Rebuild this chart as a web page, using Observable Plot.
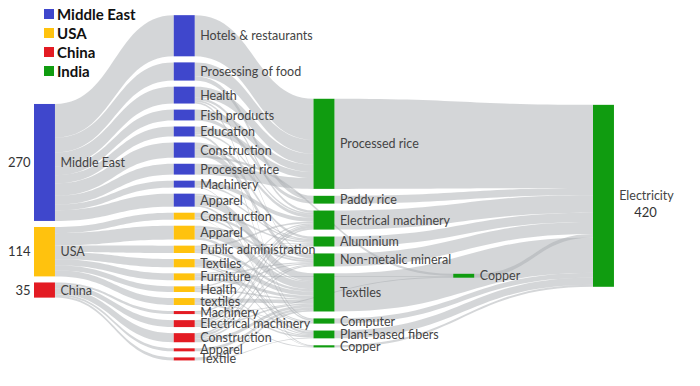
<!DOCTYPE html>
<html><head><meta charset="utf-8">
<script src="https://cdn.jsdelivr.net/npm/d3@7"></script>
<script src="https://cdn.jsdelivr.net/npm/@observablehq/plot@0.6"></script>
<style>
body{margin:0;background:#fff;}
#wrap{position:relative;width:700px;height:386px;overflow:hidden;}
#legend{position:absolute;left:44px;top:5px;}
#legend svg{margin-right:3px !important;}
</style></head><body>
<div id="wrap"><div id="chart"></div><div id="legend"></div></div>
<script>
// ---- data ----
const regions = ["Middle East", "USA", "China", "India"];
const regionColors = ["#3f47cc", "#ffc20e", "#e31b23", "#109c10"];

// column 0: importing regions (labelled totals)
const sourceNames = ["Middle East", "USA", "China"];
const sourceValues = [270, 114, 35];

// column 1: importing sectors (region index)
const sectorNames = ["Hotels & restaurants", "Prosessing of food", "Health", "Fish products", "Education", "Construction", "Processed rice", "Machinery", "Apparel",
  "Construction", "Apparel", "Public administration", "Textiles", "Furniture", "Health", "textiles",
  "Machinery", "Electrical machinery", "Construction", "Apparel", "Textile"];
const sectorRegions = [0,0,0,0,0,0,0,0,0, 1,1,1,1,1,1,1, 2,2,2,2,2];
const sectorValues = [95, 42, 39, 25, 23, 35, 25, 16, 30, 16, 32, 17, 19, 16, 13, 16, 7, 16, 21, 7, 7];

// column 2: Indian sectors
const indiaNames = ["Processed rice", "Paddy rice", "Electrical machinery", "Aluminium", "Non-metalic mineral", "Textiles", "Computer", "Plant-based fibers", "Copper"];
const indiaValues = [208, 18, 44, 23, 30, 88, 12, 18, 5];

// column 3: copper hub, column 4: electricity
const hubName = "Copper";
const hubValue = 9;
const sinkName = "Electricity";
const sinkValue = 420;

// flows: [sector index, Indian sector index (9 = copper hub), value]
const flows = [
  [0,0,95],
  [1,0,32],[1,1,10],
  [2,0,25],[2,2,6],[2,6,4],[2,4,4],
  [3,0,17],[3,1,8],
  [4,0,14],[4,2,4],[4,6,5],
  [5,2,8],[5,3,8],[5,4,14],[5,9,5],
  [6,0,25],
  [7,2,10],[7,3,4],[7,8,2],
  [8,5,22],[8,7,4],[8,3,4],
  [9,4,6],[9,3,5],[9,8,1],[9,5,4],
  [10,5,20],[10,7,6],[10,4,6],
  [11,2,4],[11,6,3],[11,3,2],[11,5,7],
  [12,5,12],[12,7,3],[12,6,3],
  [13,5,8],[13,4,4],[13,9,2],[13,3,2],
  [14,2,3],[14,5,4],[14,4,4],[14,7,3],
  [15,5,10],[15,7,4],[15,6,2],
  [16,2,3],[16,9,2],[16,8,2],
  [17,2,6],[17,5,4],[17,3,3],[17,4,3],
  [18,3,5],[18,5,8],[18,4,4],[18,2,4],
  [19,5,7],
  [20,5,5],[20,7,2]
];

// ---- layout parameters ----
const colTops = [240, 35, 228, 632, 242];
const colPads = [14, 14, 16, 0, 0];
const nodeW = 0.15;

// ---- build graph ----
const nodes = [];
function addNode(id, label, col, value, region) { nodes.push({id, label, col, value, region, in: [], out: []}); }
sourceNames.forEach((n, i) => addNode("S" + i, n, 0, sourceValues[i], regions[i]));
sectorNames.forEach((n, i) => addNode("M" + i, n, 1, sectorValues[i], regions[sectorRegions[i]]));
indiaNames.forEach((n, i) => addNode("I" + i, n, 2, indiaValues[i], "India"));
addNode("C", hubName, 3, hubValue, "India");
addNode("E", sinkName, 4, sinkValue, "India");
const byId = new Map(nodes.map(n => [n.id, n]));

const links = [];
sectorNames.forEach((n, i) => links.push({source: "S" + sectorRegions[i], target: "M" + i, value: sectorValues[i]}));
flows.forEach(([s, t, v]) => links.push({source: "M" + s, target: t === 9 ? "C" : "I" + t, value: v}));
indiaNames.forEach((n, i) => links.push({source: "I" + i, target: "E", value: indiaValues[i]}));
links.push({source: "C", target: "E", value: hubValue});

for (let c = 0; c < 5; c++) {
  let y = colTops[c];
  nodes.filter(n => n.col === c).forEach(n => { n.y0 = y; n.y1 = y + n.value; y = n.y1 + colPads[c]; });
}
links.forEach(l => { l.s = byId.get(l.source); l.t = byId.get(l.target); l.s.out.push(l); l.t.in.push(l); });
const mid = n => (n.y0 + n.y1) / 2;
nodes.forEach(n => {
  n.out.sort((a, b) => mid(a.t) - mid(b.t));
  let tot = d3.sum(n.out, l => l.value), y = n.y0;
  n.out.forEach(l => { const w = l.value * n.value / tot; l.sy0 = y; l.sy1 = y + w; y += w; });
  n.in.sort((a, b) => mid(a.s) - mid(b.s));
  tot = d3.sum(n.in, l => l.value); y = n.y0;
  n.in.forEach(l => { const w = l.value * n.value / tot; l.ty0 = y; l.ty1 = y + w; y += w; });
});

const pts = [];
links.forEach((l, i) => {
  const x0 = l.s.col + nodeW, x1 = l.t.col, N = 30;
  for (let k = 0; k <= N; k++) {
    const t = k / N;
    const fx = 1.5 * t - 1.5 * t * t + t * t * t;
    const fy = 3 * t * t - 2 * t * t * t;
    pts.push({id: i, x: x0 + (x1 - x0) * fx, y1: l.sy0 + (l.ty0 - l.sy0) * fy, y2: l.sy1 + (l.ty1 - l.sy1) * fy});
  }
});

const labelNodes = nodes.filter(n => n.col < 4);
const sink = nodes.filter(n => n.col === 4);
const sources = nodes.filter(n => n.col === 0);

const chart = Plot.plot({
  width: 700,
  height: 386,
  margin: 0,
  style: {fontFamily: "Lato, sans-serif", background: "#fff"},
  x: {domain: [0, 4], range: [34, 593], axis: null},
  y: {domain: [0, 891], range: [0, 386], axis: null},
  color: {domain: regions, range: regionColors},
  marks: [
    Plot.areaY(pts, {x: "x", y1: "y1", y2: "y2", z: "id", fill: "#a9adb2", fillOpacity: 0.5}),
    Plot.rect(nodes, {x1: d => d.col, x2: d => d.col + nodeW, y1: "y0", y2: "y1", fill: "region"}),
    Plot.text(labelNodes, {x: d => d.col + nodeW, y: mid, text: "label", dx: 5, textAnchor: "start", fontSize: 12.5, fill: "#444"}),
    Plot.text(sources, {x: "col", y: mid, text: d => String(d.value), dx: -4, textAnchor: "end", fontSize: 13, fill: "#333"}),
    Plot.text(sink, {x: d => d.col + nodeW, y: mid, text: "label", dx: 32, textAnchor: "middle", fontSize: 12.5, fill: "#444"}),
    Plot.text(sink, {x: d => d.col + nodeW, y: mid, text: d => String(d.value), dx: 31, dy: 17, textAnchor: "middle", fontSize: 13, fill: "#333"})
  ]
});
document.getElementById("chart").appendChild(chart);

const legend = Plot.legend({
  color: {domain: regions, range: regionColors},
  legend: "swatches",
  columns: 1,
  swatchSize: 10,
  style: {fontFamily: "Lato, sans-serif", fontSize: "15px", fontWeight: "bold", color: "#111", margin: 0}
});
document.getElementById("legend").appendChild(legend);
</script></body></html>
